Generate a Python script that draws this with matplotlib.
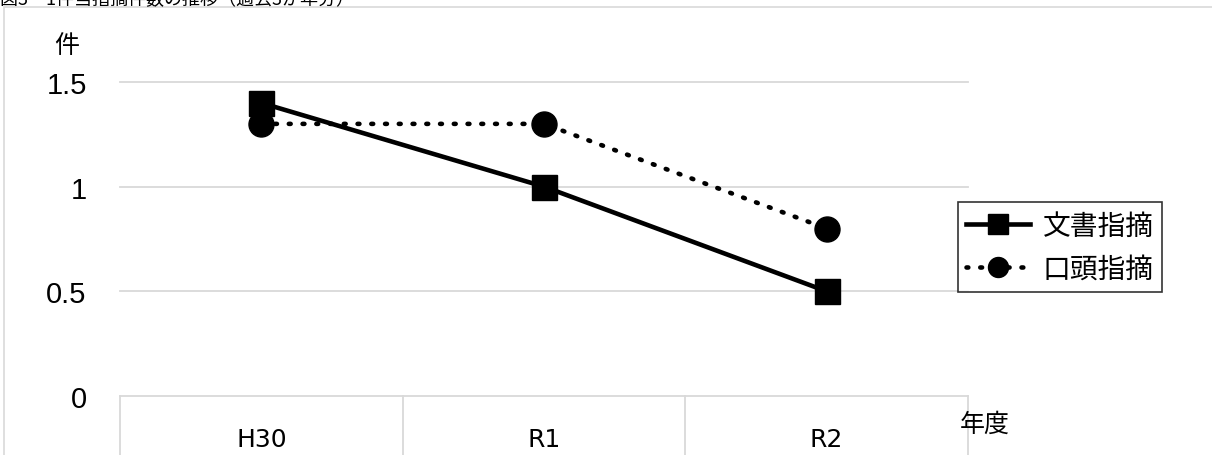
import matplotlib
matplotlib.use("Agg")
import matplotlib.pyplot as plt
from matplotlib.patches import Rectangle

plt.rcParams['font.family'] = ['Noto Sans CJK JP', 'DejaVu Sans']

# data
years = ["H30", "R1", "R2"]
written = [1.4, 1.0, 0.5]      # 文書指摘
oral = [1.3, 1.3, 0.8]         # 口頭指摘
yticks = [0, 0.5, 1, 1.5]
ytick_labels = ["0", "0.5", "1", "1.5"]

W, H = 1212, 456
fig = plt.figure(figsize=(W / 100, H / 100), dpi=100)

# chart frame
fig.patches.append(Rectangle((4 / W, -0.1), 1.2, 1.1 - 8 / H,
                             transform=fig.transFigure, fill=False,
                             edgecolor="#d9d9d9", linewidth=1.2))

# title (partly above the top edge)
fig.text(0.0, 1 - 5 / H, "図3　1件当指摘件数の推移（過去3か年分）",
         fontsize=13, va="baseline", ha="left", color="black")

left, right = 120 / W, 968 / W
bottom, top = 1 - 397 / H, 1 - 83 / H
ax = fig.add_axes([left, bottom, right - left, top - bottom])
x = list(range(len(years)))
ax.set_xlim(-0.5, len(years) - 0.5)
ax.set_ylim(0, 1.5)

for s in ax.spines.values():
    s.set_visible(False)
for yv in yticks:
    ax.axhline(yv, color="#d9d9d9", linewidth=1.3, zorder=0, clip_on=False)

# category dividers below the axis
for xv in [-0.5 + i for i in range(len(years) + 1)]:
    ax.plot([xv, xv], [0, -0.3], transform=ax.get_xaxis_transform(),
            color="#d9d9d9", linewidth=1.3, clip_on=False)

ax.plot(x, written, color="black", linewidth=3.3, marker="s",
        markersize=18, clip_on=False, zorder=3, label="文書指摘")
ax.plot(x, oral, color="black", linewidth=3.3, linestyle=(0, (0.4, 2.6)),
        dash_capstyle="round", marker="o", markersize=18, clip_on=False,
        zorder=3, label="口頭指摘")

ax.set_yticks(yticks)
ax.set_yticklabels(ytick_labels, fontsize=21, family=['Liberation Sans', 'DejaVu Sans'])
ax.set_xticks(x)
ax.set_xticklabels(years, fontsize=18, family=['DejaVu Sans'])
ax.tick_params(axis="both", length=0)
ax.tick_params(axis="y", pad=24)
ax.tick_params(axis="x", pad=22)

fig.text(67 / W, 1 - 46 / H, "件", fontsize=18, ha="center", va="center")
fig.text(985 / W, 1 - 425 / H, "年度", fontsize=18, ha="center", va="center")

leg = ax.legend(loc="center left", bbox_to_anchor=(958 / W, 1 - 248 / H),
                bbox_transform=fig.transFigure, fontsize=20, frameon=True,
                fancybox=False, edgecolor="black", handlelength=2.3,
                handletextpad=0.45, borderpad=0.3, labelspacing=0.45,
                markerscale=0.8, borderaxespad=0)
leg.get_frame().set_linewidth(1.2)

fig.savefig("out.png", dpi=100)
